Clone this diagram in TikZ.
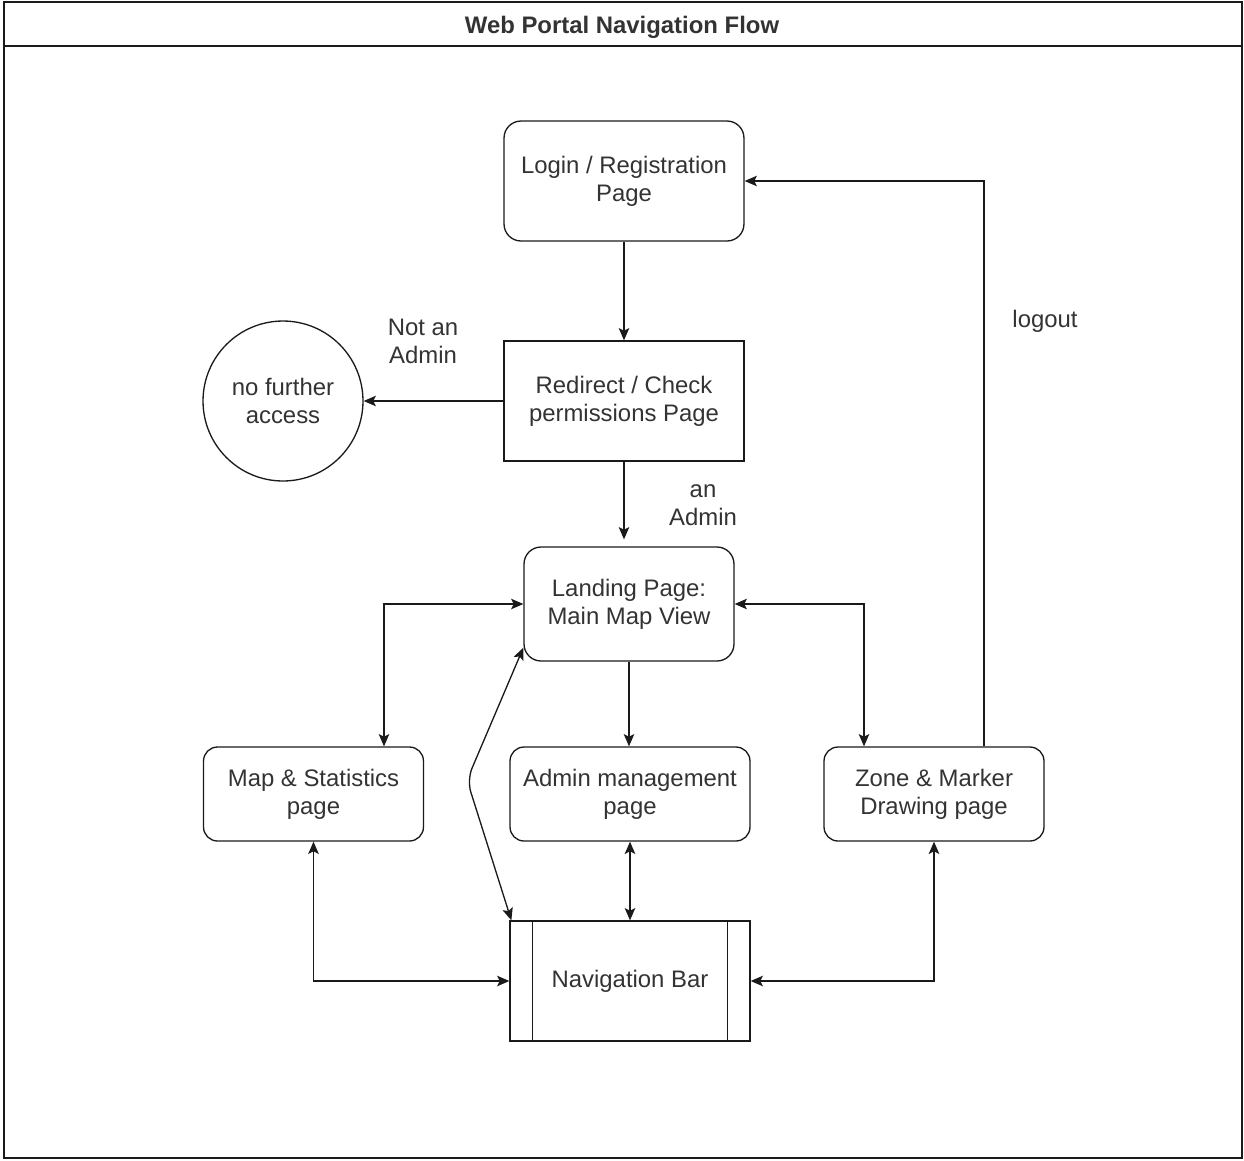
\documentclass[tikz,border=0pt]{standalone}
\usepackage{fontspec}
\setmainfont{Liberation Sans}
\usetikzlibrary{arrows.meta,calc}
\definecolor{ink}{HTML}{333333}
\definecolor{edge}{HTML}{1A1A1A}
\begin{document}
\begin{tikzpicture}[x=0.02cm,y=-0.02cm,
  txt/.style={font=\fontsize{13.6pt}{15.9pt}\selectfont, text=ink, align=center},
  box/.style={txt, draw=edge, line width=0.75pt, minimum width=4.8cm, minimum height=2.4cm, inner sep=0pt},
  rbox/.style={box, rounded corners=0.34cm},
  sbox/.style={rbox, minimum width=4.4cm, minimum height=1.88cm, rounded corners=0.28cm},
  lbl/.style={txt},
  conn/.style={draw=edge, line width=0.75pt, -{Stealth[length=7pt,width=6pt,inset=1.5pt]}},
  both/.style={conn, {Stealth[length=7pt,width=6pt,inset=1.5pt]}-{Stealth[length=7pt,width=6pt,inset=1.5pt]}}
]
\useasboundingbox (0,0) rectangle (1244,1160);

% outer frame with title band
\draw[edge, line width=0.9pt] (4,2) rectangle (1242,1158);
\draw[edge, line width=0.9pt] (4,46) -- (1242,46);
\node[font=\bfseries\fontsize{13.6pt}{15.9pt}\selectfont, text=ink] (title) at (622,27) {Web Portal Navigation Flow};

% pages
\node[rbox] (login) at (624,181) {Login / Registration\\Page};
\node[box] (check) at (624,401) {Redirect / Check\\permissions Page};
\node[txt, draw=edge, line width=0.75pt, circle, minimum size=3.2cm, inner sep=0pt] (noacc) at (283,401) {no further\\access};
\node[rbox, minimum width=4.2cm, minimum height=2.28cm] (land) at (629,604) {Landing Page:\\Main Map View};
\node[sbox] (stats) at (313.5,794) {Map \& Statistics\\page};
\node[sbox, minimum width=4.8cm] (admin) at (630,794) {Admin management\\page};
\node[sbox] (zone) at (934,794) {Zone \& Marker\\Drawing page};
\node[box] (nav) at (630,981) {Navigation Bar};
\draw[edge, line width=0.75pt] ([xshift=0.46cm]nav.north west) -- ([xshift=0.46cm]nav.south west);
\draw[edge, line width=0.75pt] ([xshift=-0.46cm]nav.north east) -- ([xshift=-0.46cm]nav.south east);

% edge labels
\node[lbl] (lnot) at (423,341) {Not an\\Admin};
\node[lbl] (lyes) at (703,505) {an\\Admin};
\node[lbl] (lout) at (1045,321) {logout};

% helper points
\coordinate (bend) at (467,780);
\coordinate (lstart) at ($(land.south west)+(0,-14)$);

% connectors
\draw[conn] (login.south) -- (check.north);
\draw[conn] (check.west) -- (noacc.east);
\draw[conn] (check.south) -- ($(land.north)+(-5,-7)$);
\draw[conn] (land.south) -- (admin.north -| land.south);
\draw[both] (land.west) -| ($(stats.north)+(70.5,0)$);
\draw[both] (land.east) -| ($(zone.north)+(-70,0)$);
\draw[both] (admin.south) -- (nav.north);
\draw[both] (stats.south) |- (nav.west);
\draw[both] (zone.south) |- (nav.east);
\draw[conn] ($(zone.north)+(50,0)$) |- (login.east);
\draw[both, rounded corners=0.25cm] (lstart) -- (bend) -- ($(nav.north west)+(2,0)$);
\end{tikzpicture}
\end{document}
